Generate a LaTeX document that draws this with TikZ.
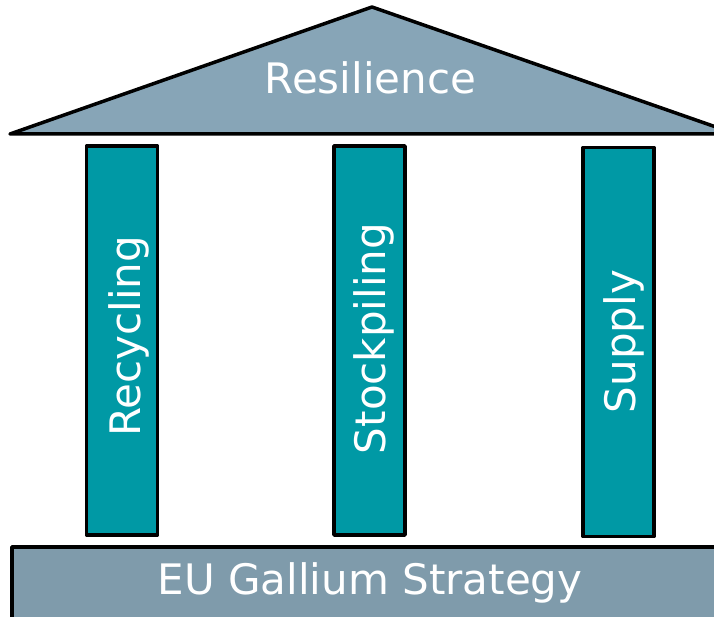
\documentclass[tikz,border=0pt]{standalone}
\usepackage{fontspec}
\setmainfont{DejaVu Sans}
\definecolor{roofc}{RGB}{135,165,183}
\definecolor{basec}{RGB}{127,155,171}
\definecolor{pillarc}{RGB}{0,153,165}
\begin{document}
\begin{tikzpicture}[x=1pt,y=-1pt,
  outline/.style={draw=black,line width=3.5pt,line join=round},
  pillar/.style={outline,fill=pillarc,rectangle,inner sep=0pt,minimum width=71pt,minimum height=389pt},
  lbl/.style={text=white,inner sep=0pt,font=\fontsize{42}{50}\selectfont},
  vlbl/.style={lbl,rotate=90,anchor=base}]
\useasboundingbox (0,0) rectangle (714,617);
\begin{scope}
\clip (0,0) rectangle (714,617);
% roof
\draw[outline,fill=roofc] (10,134) -- (372,7) -- (736,134) -- cycle;
% base
\draw[outline,fill=basec] (12,547) rectangle (740,640);
\end{scope}
% pillars
\node[pillar] (p1) at (122,340.5) {};
\node[pillar] (p2) at (369.5,340.5) {};
\node[pillar] (p3) at (618.5,342) {};
% labels
\node[lbl,anchor=base] (roof) at (370.5,94) {Resilience};
\node[lbl,anchor=base] (base) at (370,594) {EU Gallium Strategy};
\node[vlbl] (l1) at (140,336.5) {Recycling};
\node[vlbl] (l2) at (385,338.5) {Stockpiling};
\node[vlbl] (l3) at (635,341.5) {Supply};
\end{tikzpicture}
\end{document}
